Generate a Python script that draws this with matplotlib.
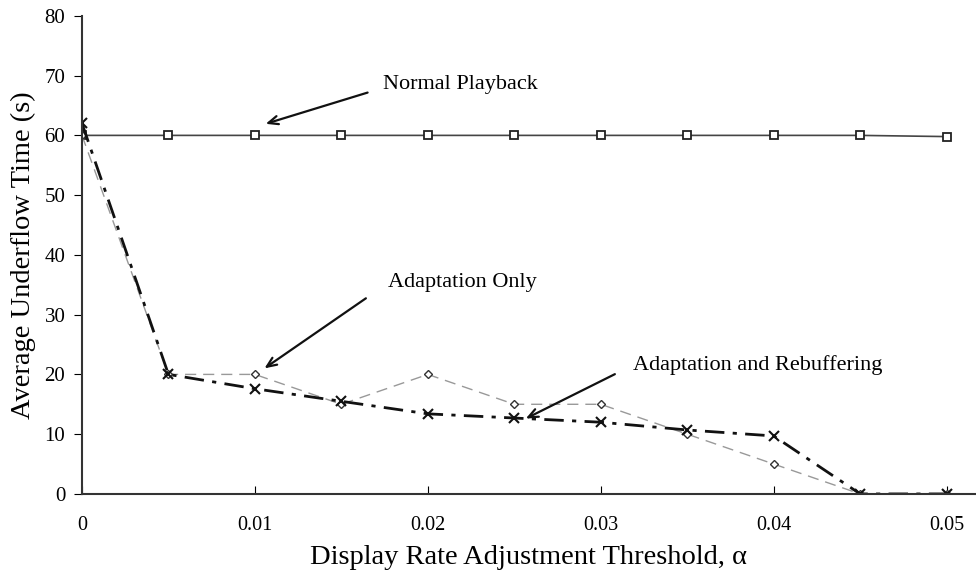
import numpy as np
import matplotlib.pyplot as plt

plt.rcParams['font.family'] = ['Liberation Serif', 'DejaVu Serif']

alpha = [0, 0.005, 0.01, 0.015, 0.02, 0.025, 0.03, 0.035, 0.04, 0.045, 0.05]
normal = [60, 60, 60, 60, 60, 60, 60, 60, 60, 60, 59.8]
adapt_only = [60, 20, 20, 15, 20, 15, 15, 10, 5, 0, 0]
adapt_rebuf = [62, 20, 17.6, 15.5, 13.4, 12.7, 12, 10.7, 9.7, 0, 0]

fig = plt.figure(figsize=(9.76, 5.88), dpi=100)
ax = fig.add_axes([0.084, 0.16, 0.916, 0.813])

ax.plot(alpha, normal, color='#444444', lw=1.2, marker='s', ms=6,
        mfc='white', mec='#222222', mew=1.3)
ax.plot(alpha, adapt_only, color='#999999', lw=1.0, ls=(0, (8, 5)),
        marker='D', ms=4.5, mfc='white', mec='#333333', mew=1.0)
ax.plot(alpha, adapt_rebuf, color='#111111', lw=2.0, ls=(0, (7, 3, 1.5, 3)),
        marker='x', ms=7, mec='#111111', mew=1.5)

# callouts
arrow = dict(arrowstyle='->,head_length=0.7,head_width=0.3', color='#111111', lw=1.6)
ax.annotate('', xy=(0.01047, 61.8), xytext=(0.01667, 67.3), arrowprops=arrow)
ax.text(0.01742, 68.5, 'Normal Playback', fontsize=16, va='center', ha='left')
ax.annotate('', xy=(0.01042, 20.75), xytext=(0.01655, 33.0), arrowprops=arrow)
ax.text(0.01771, 35.3, 'Adaptation Only', fontsize=16, va='center', ha='left')
ax.annotate('', xy=(0.02552, 12.4), xytext=(0.03096, 20.25), arrowprops=arrow)
ax.text(0.03189, 21.6, 'Adaptation and Rebuffering', fontsize=16, va='center', ha='left')

ax.set_xlim(0, 0.0517)
ax.set_ylim(0, 80)
ax.set_xticks([0, 0.01, 0.02, 0.03, 0.04, 0.05])
ax.set_xticklabels(['0', '0.01', '0.02', '0.03', '0.04', '0.05'])
ax.set_yticks(np.arange(0, 81, 10))
ax.tick_params(axis='x', direction='in', length=6, labelsize=14.5, pad=16)
ax.tick_params(axis='y', direction='out', length=6, labelsize=15, pad=6)

for side in ['top', 'right']:
    ax.spines[side].set_visible(False)
for side in ['left', 'bottom']:
    ax.spines[side].set_color('#333333')
    ax.spines[side].set_linewidth(1.5)

ax.set_xlabel('Display Rate Adjustment Threshold, α', fontsize=20.5, labelpad=7)
ax.set_ylabel('Average Underflow Time (s)', fontsize=20.5, labelpad=6)

fig.savefig('out.png', dpi=100)
